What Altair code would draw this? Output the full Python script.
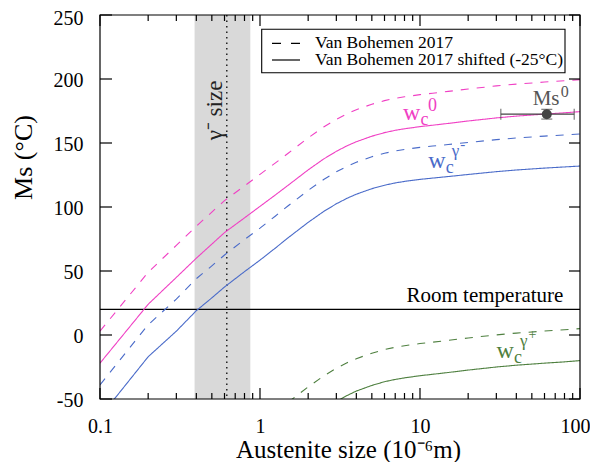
import altair as alt
import pandas as pd

F = "Liberation Serif"
W, H = 480, 384

# ---------------- data ----------------
xs = [0.1, 0.2, 0.3, 0.4, 0.5, 0.6, 0.8, 1, 1.25, 1.5, 2, 2.5, 3, 3.5, 4, 5, 6, 7, 8, 10, 12, 15, 20, 30, 40, 60, 80, 100]
wc0_vb = [3, 49, 70, 85, 96, 105, 116.5, 125.5, 134.5, 142, 154, 162.5, 168.5, 172.8, 176, 180.3, 183.1, 184.9, 186.1, 187.8, 188.9, 190.3, 192.2, 194.6, 196, 197.6, 198.6, 199.5]
wc0_shift = [-22, 24, 45, 60, 71, 80, 91.5, 100.5, 109.5, 117, 129, 137.5, 143.5, 147.8, 151, 155.3, 158.1, 159.9, 161.1, 162.8, 163.9, 165.3, 167.2, 169.6, 171, 172.6, 173.6, 174.5]
wcgm_vb = [-39, 8, 28, 44, 54, 62.5, 74.5, 83.5, 93, 101, 113, 121.5, 127.5, 131.8, 135, 139.3, 142, 143.8, 145, 146.6, 147.6, 148.8, 150.4, 152.6, 153.9, 155.4, 156.3, 157]
wcgm_shift = [-64, -17, 3, 19, 29, 37.5, 49.5, 58.5, 68, 76, 88, 96.5, 102.5, 106.8, 110, 114.3, 117, 118.8, 120, 121.6, 122.6, 123.8, 125.4, 127.6, 128.9, 130.4, 131.3, 132]

xs_g_vb = [1.5, 2, 2.5, 3, 3.5, 4, 5, 6, 7, 8, 10, 12, 15, 20, 30, 40, 60, 80, 100]
wcgp_vb = [-52.5, -40.5, -32, -26, -21.7, -18.5, -14.2, -11.4, -9.6, -8.4, -6.7, -5.6, -4.2, -2.3, 0.1, 1.5, 3.1, 4.1, 5]
xs_g_shift = [2.5, 3, 3.5, 4, 5, 6, 7, 8, 10, 12, 15, 20, 30, 40, 60, 80, 100]
wcgp_shift = [-58, -52, -47.3, -43.8, -39.4, -36.5, -34.7, -33.5, -31.8, -30.7, -29.3, -27.4, -25, -23.6, -22, -21, -20]

curves = ["wc0", "wcγ-", "wcγ+"]
curve_colors = ["#f040c4", "#4a6bc9", "#4f8040"]
models = ["Van Bohemen 2017", "Van Bohemen 2017 shifted (-25°C)"]

band_lo, band_hi = 0.39, 0.87
gamma_size = 0.62
room_temp = 20

ms0_x, ms0_y = 62, 172.5
ms0_xerr, ms0_yerr = 30, 3.8

x_major = [0.1, 1, 10, 100]
x_minor = [0.2, 0.3, 0.4, 0.5, 0.6, 0.7, 0.8, 0.9, 2, 3, 4, 5, 6, 7, 8, 9, 20, 30, 40, 50, 60, 70, 80, 90]
y_major = [-50, 0, 50, 100, 150, 200, 250]

# ---------------- tables ----------------
rows = []
for series, xv, model, curve in [
    (wc0_vb, xs, models[0], curves[0]),
    (wc0_shift, xs, models[1], curves[0]),
    (wcgm_vb, xs, models[0], curves[1]),
    (wcgm_shift, xs, models[1], curves[1]),
    (wcgp_vb, xs_g_vb, models[0], curves[2]),
    (wcgp_shift, xs_g_shift, models[1], curves[2]),
]:
    for a, b in zip(xv, series):
        rows.append({"x": a, "y": b, "model": model, "curve": curve})
lines_df = pd.DataFrame(rows)

xscale = alt.Scale(type="log", domain=[0.1, 100], nice=False)
yscale = alt.Scale(domain=[-50, 250], nice=False, zero=False)

xaxis = alt.Axis(values=x_major, labelExpr="datum.value + ''", ticks=False, domain=False, grid=False,
                 labelFont=F, labelFontSize=20, labelColor="black", labelPadding=17, labelFlush=False,
                 labelAlign={"condition": {"test": "datum.value == 100", "value": "right"}, "value": "center"},
                 labelOffset={"condition": {"test": "datum.value == 100", "value": 10}, "value": 0},
                 title="Austenite size (10⁻⁶m)", titleFont=F, titleFontSize=25, titleFontWeight="normal",
                 titleColor="black", titleX=248, titleY=58, titleAlign="center", titleBaseline="alphabetic")
yaxis = alt.Axis(values=y_major, labelExpr="datum.value + ''", ticks=False, domain=False, grid=False,
                 labelFont=F, labelFontSize=20, labelColor="black", labelPadding=17,
                 labelOffset={"condition": {"test": "datum.value == 250", "value": 3}, "value": 1.5},
                 title="Ms (°C)", titleFont=F, titleFontSize=26, titleFontWeight="normal",
                 titleColor="black", titleAngle=270, titleX=-77, titleY=142,
                 titleAlign="center", titleBaseline="middle")


def X(field):
    return alt.X(field, type="quantitative", scale=xscale, axis=xaxis)


def Y(field):
    return alt.Y(field, type="quantitative", scale=yscale, axis=yaxis)


one = pd.DataFrame({"a": [0]})

band = alt.Chart(pd.DataFrame({"x0": [band_lo], "x1": [band_hi]})).mark_rect(
    color="#d9d9d9").encode(x=X("x0"), x2="x1", y=alt.value(0), y2=alt.value(H))

dotted = alt.Chart(pd.DataFrame({"xd": [gamma_size]})).mark_rule(
    color="#222222", strokeDash=[1.5, 4], strokeWidth=1.5).encode(
    x=X("xd"), y=alt.value(0), y2=alt.value(H))

room = alt.Chart(pd.DataFrame({"rt": [room_temp]})).mark_rule(
    color="black", strokeWidth=1.2).encode(y=Y("rt"), x=alt.value(0), x2=alt.value(W))

lines = alt.Chart(lines_df).mark_line(strokeWidth=1.1, clip=True).encode(
    x=X("x"), y=Y("y"),
    color=alt.Color("curve:N", scale=alt.Scale(domain=curves, range=curve_colors), legend=None),
    strokeDash=alt.StrokeDash("model:N", scale=alt.Scale(domain=models, range=[[8, 8], [1, 0]]), legend=None),
)

# Ms0 point with error bars
ms_df = pd.DataFrame({"mx": [ms0_x], "my": [ms0_y], "xlo": [ms0_x - ms0_xerr], "xhi": [ms0_x + ms0_xerr],
                      "ylo": [ms0_y - ms0_yerr], "yhi": [ms0_y + ms0_yerr]})
ebar_h = alt.Chart(ms_df).mark_rule(color="#444444", strokeWidth=1.2).encode(x=X("xlo"), x2="xhi", y=Y("my"))
ebar_v = alt.Chart(ms_df).mark_rule(color="#444444", strokeWidth=1.2).encode(x=X("mx"), y=Y("ylo"), y2="yhi")
caps_x = alt.Chart(pd.DataFrame({"cx": [ms0_x - ms0_xerr, ms0_x + ms0_xerr], "cy": [ms0_y, ms0_y]})).mark_tick(
    orient="vertical", size=11, thickness=1.2, color="#444444").encode(x=X("cx"), y=Y("cy"))
caps_y = alt.Chart(pd.DataFrame({"cx": [ms0_x, ms0_x], "cy": [ms0_y - ms0_yerr, ms0_y + ms0_yerr]})).mark_tick(
    orient="horizontal", size=11, thickness=1.2, color="#444444").encode(x=X("cx"), y=Y("cy"))
point = alt.Chart(ms_df).mark_circle(size=100, color="#444444", opacity=1).encode(x=X("mx"), y=Y("my"))


def label(x, y, text, size, color, dx=0, dy=0, align="left", angle=0, baseline="alphabetic"):
    return alt.Chart(pd.DataFrame({"lx": [x], "ly": [y], "t": [text]})).mark_text(
        font=F, fontSize=size, color=color, dx=dx, dy=dy, align=align, angle=angle,
        baseline=baseline).encode(x=X("lx"), y=Y("ly"), text="t:N")


texts = [
    label(7.83, 167.6, "w", 24, curve_colors[0]),
    label(7.83, 167.6, "c", 18, curve_colors[0], dx=17.5, dy=4.5),
    label(7.83, 167.6, "0", 18, curve_colors[0], dx=25, dy=-9),
    label(11.27, 130.2, "w", 24, curve_colors[1]),
    label(11.27, 130.2, "c", 18, curve_colors[1], dx=17.5, dy=4.5),
    label(11.27, 130.2, "γ", 17, curve_colors[1], dx=23.5, dy=-12),
    label(11.27, 130.2, "-", 15, curve_colors[1], dx=32, dy=-19),
    label(30.1, -18.2, "w", 24, curve_colors[2]),
    label(30.1, -18.2, "c", 18, curve_colors[2], dx=17.5, dy=4.5),
    label(30.1, -18.2, "γ", 17, curve_colors[2], dx=23.5, dy=-12),
    label(30.1, -18.2, "+", 14, curve_colors[2], dx=32, dy=-19),
    label(50.6, 179.7, "Ms", 21, "#555555"),
    label(50.6, 179.7, "0", 16, "#555555", dx=28, dy=-8),
    label(78.7, 25.8, "Room temperature", 21, "black", align="right"),
    label(0.52, 175.4, "γ⁻ size", 23, "#222222", align="center", angle=270, baseline="middle"),
]

# legend drawn as a framed box
leg_box = alt.Chart(one).mark_rect(fill="white", stroke="black", strokeWidth=1.1).encode(
    x=alt.value(161.7), x2=alt.value(465), y=alt.value(14.3), y2=alt.value(57.7))
leg_dash = alt.Chart(one).mark_rule(color="black", strokeWidth=1.2, strokeDash=[9, 10]).encode(
    x=alt.value(172), x2=alt.value(200), y=alt.value(28.3))
leg_solid = alt.Chart(one).mark_rule(color="black", strokeWidth=1.2).encode(
    x=alt.value(172), x2=alt.value(200), y=alt.value(45))
leg_t1 = alt.Chart(pd.DataFrame({"t": [models[0]]})).mark_text(
    font=F, fontSize=17.5, color="black", align="left", baseline="middle").encode(
    x=alt.value(215), y=alt.value(28.3), text="t:N")
leg_t2 = alt.Chart(pd.DataFrame({"t": [models[1]]})).mark_text(
    font=F, fontSize=17.5, color="black", align="left", baseline="middle").encode(
    x=alt.value(215), y=alt.value(45.3), text="t:N")

# inward ticks on all four sides
xmaj_df = pd.DataFrame({"v": x_major})
xmin_df = pd.DataFrame({"v": x_minor})
ymaj_df = pd.DataFrame({"v": y_major})
tick_style = dict(color="black", strokeWidth=1.2)
ticks = [
    alt.Chart(xmaj_df).mark_rule(**tick_style).encode(x=X("v"), y=alt.value(H), y2=alt.value(H - 11)),
    alt.Chart(xmaj_df).mark_rule(**tick_style).encode(x=X("v"), y=alt.value(0), y2=alt.value(11)),
    alt.Chart(xmin_df).mark_rule(**tick_style).encode(x=X("v"), y=alt.value(H), y2=alt.value(H - 6)),
    alt.Chart(xmin_df).mark_rule(**tick_style).encode(x=X("v"), y=alt.value(0), y2=alt.value(6)),
    alt.Chart(ymaj_df).mark_rule(**tick_style).encode(y=Y("v"), x=alt.value(0), x2=alt.value(12)),
    alt.Chart(ymaj_df).mark_rule(**tick_style).encode(y=Y("v"), x=alt.value(W), x2=alt.value(W - 11)),
]

frame = alt.Chart(one).mark_rect(filled=False, stroke="black", strokeWidth=1.2).encode(
    x=alt.value(0), x2=alt.value(W), y=alt.value(0), y2=alt.value(H))

chart = alt.layer(band, dotted, room, lines, ebar_h, ebar_v, caps_x, caps_y, point, *texts,
                  *ticks, leg_box, leg_dash, leg_solid, leg_t1, leg_t2, frame).properties(
    width=W, height=H,
    autosize=alt.AutoSizeParams(type="none"),
    padding={"left": 92, "top": 7, "right": 10, "bottom": 63},
).configure_view(stroke=None)

chart.save("out.html", embed_options={"renderer": "svg", "actions": False})
